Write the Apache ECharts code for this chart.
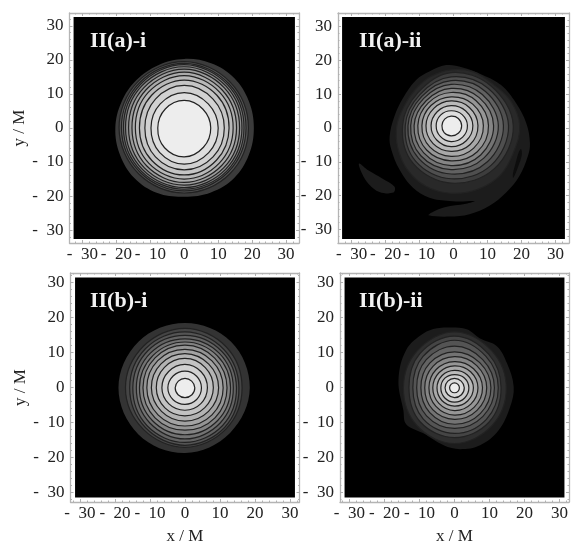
<!DOCTYPE html>
<html>
<head>
<meta charset="utf-8">
<style>
    html, body { margin: 0; padding: 0; background: #fff; }
    #chart { width: 581px; height: 550px; }
</style>
<script src="https://cdn.jsdelivr.net/npm/echarts@6/dist/echarts.min.js"></script>
</head>
<body>
<div id="chart"></div>
<script>
// tick positions, same on every side of every panel
const majorTicks = [-30, -20, -10, 0, 10, 20, 30];
const minorTicks = [-32, -28, -26, -24, -22, -18, -16, -14, -12, -8, -6, -4, -2,
    2, 4, 6, 8, 12, 14, 16, 18, 22, 24, 26, 28, 32];

const panelTitles = ['II(a)-i', 'II(a)-ii', 'II(b)-i', 'II(b)-ii'];
const frameRanges = [33.8, 34, 32.7, 32.7];
const plotRanges = [32.6, 32.8, 31.4, 31.4];

// contour radii, outer to inner.
// each row walks round anticlockwise starting from +x at even angle steps
const a1Centre = [0, 0];
const a1Rings = [
    [20.5, 20.6, 20.8, 20.6, 20.3, 20.0, 19.9, 20.0, 20.3, 20.5, 20.8, 20.7, 20.2, 20.5, 20.8, 20.6],
    [18.9, 19.1, 19.5, 19.3, 19.2, 19.0, 19.1, 19.0],
    [18.2, 18.5, 19.0, 18.7, 18.5, 18.4, 18.5, 18.3],
    [17.6, 18.0, 18.6, 18.2, 17.9, 17.9, 18.0, 17.8],
    [17.0, 17.4, 18.0, 17.6, 17.3, 17.3, 17.5, 17.2],
    [16.3, 16.7, 17.3, 16.8, 16.4, 16.6, 16.8, 16.5],
    [15.4, 15.8, 16.4, 15.9, 15.4, 15.7, 16.0, 15.6],
    [14.4, 14.8, 15.4, 14.9, 14.4, 14.7, 15.0, 14.6],
    [13.2, 13.6, 14.1, 13.6, 13.2, 13.5, 13.8, 13.4],
    [11.8, 12.0, 12.5, 12.0, 11.6, 12.0, 12.3, 12.0],
    [10.0, 10.0, 10.4, 10.0, 9.8, 10.2, 10.6, 10.2],
    [7.8, 7.8, 8.1, 7.9, 7.8, 8.2, 8.5, 8.0]
];
const a1Levels = [0.23, 0.33, 0.41, 0.48, 0.55, 0.61, 0.67, 0.72, 0.77, 0.82, 0.87, 0.93];

const a2Centre = [-0.7, 0.7];
const a2Edge = [[-2.2, 18.6], [2.7, 17.9], [8.6, 15.7], [14, 12.7], [18.4, 7.4], [21.4, 1.5],
    [22.5, -4.4], [21.9, -8.3], [19.4, -14.2], [15.5, -19.1], [10.6, -23], [4.7, -25.5],
    [-1.2, -26.2], [-7.3, -25.8], [-6.1, -24.8], [-2.6, -23.4], [3.7, -22.4], [6.2, -21.6],
    [1.8, -21.7], [-1.2, -21.6], [-7.1, -20.6], [-12, -17.6], [-15.9, -12.3], [-18.3, -6.4],
    [-18.8, -2.5], [-17.4, 3.4], [-14.9, 8.8], [-11, 14.2], [-7.1, 16.7]];
const a2Tail = [[-27.8, -10.5], [-25, -12.6], [-21, -14.9], [-17.4, -17.3],
    [-17.7, -19.1], [-21.8, -18.9], [-24.9, -16.6], [-26.9, -13.5]];
const a2Slit = [[19.9, -6.2], [20.1, -8], [19, -11.5], [17.6, -14.7], [17.5, -13.5], [18.4, -10], [19.2, -7.2]];
const a2Rings = [
    [20.2, 19.0, 17.4, 17.2, 16.5, 15.7, 15.0, 15.0, 16.0, 17.0, 18.3, 19.4, 20.0, 20.4, 20.6, 20.0],
    [18.3, 16.6, 15.7, 13.8, 14.3, 15.8, 17, 18],
    [16.9, 15.5, 14.4, 13, 13.5, 14.8, 15.7, 16.6],
    [15.4, 14.3, 13.3, 12.2, 12.7, 13.6, 14.3, 15.1],
    [13.9, 13, 12.2, 11.4, 11.9, 12.6, 13, 13.6],
    [12.5, 11.7, 11, 10.4, 10.9, 11.4, 11.8, 12.3],
    [11, 10.4, 9.8, 9.5, 9.8, 10.2, 10.4, 10.9],
    [9.5, 9, 8.5, 8.4, 8.6, 8.9, 9.1, 9.4],
    [7.9, 7.6, 7.3, 7.2, 7.4, 7.5, 7.6, 7.9],
    [6.4, 6.1, 5.9, 5.8, 5.9, 6, 6.2, 6.3],
    [4.8, 4.6, 4.4, 4.4, 4.4, 4.5, 4.7, 4.8],
    [3.1, 3, 2.8, 2.7, 2.7, 2.9, 3, 3.1]
];
const a2Levels = [0.16, 0.24, 0.31, 0.38, 0.45, 0.52, 0.59, 0.66, 0.73, 0.8, 0.87, 0.93];
const a2EdgeLevel = 0.11;
const a2SlitLevel = 0.05;

const b1Centre = [0, -0.1];
const b1Rings = [
    [18.5, 18.6, 18.5, 18.7, 19, 18.8, 18.6, 18.2],
    [16.3, 16.6, 17, 16.8, 17, 16.8, 17, 16.6],
    [15.4, 15.6, 16, 15.9, 15.8, 16, 16.4, 16],
    [14.7, 14.8, 15, 15, 14.9, 15.3, 15.6, 15.2],
    [13.8, 13.9, 14, 14, 13.9, 14.2, 14.6, 14.2],
    [13, 13, 13.1, 13, 13, 13.2, 13.4, 13.2],
    [12, 12, 12.2, 12.1, 12, 12.1, 12.1, 12.1],
    [10.9, 10.9, 11, 11, 10.9, 10.9, 10.9, 10.9],
    [9.6, 9.6, 9.8, 9.7, 9.6, 9.5, 9.5, 9.5],
    [8.1, 8.2, 8.4, 8.3, 8.2, 8.1, 8, 8],
    [6.4, 6.5, 6.7, 6.6, 6.6, 6.5, 6.4, 6.4],
    [4.7, 4.7, 4.8, 4.8, 4.9, 4.8, 4.7, 4.7],
    [2.8, 2.7, 2.7, 2.7, 2.8, 2.8, 2.8, 2.8]
];
const b1Levels = [0.2, 0.27, 0.33, 0.39, 0.45, 0.51, 0.58, 0.64, 0.7, 0.76, 0.82, 0.87, 0.93];

const b2Centre = [0, -0.1];
const b2Edge = [[-0.8, 17.1], [3.5, 16.6], [7.3, 14], [12.1, 11.8], [15, 6.9], [16.9, 0.2],
    [15.9, -5.5], [12.6, -12.2], [7.3, -16.5], [1.6, -17.6], [-3.1, -16.5], [-8.9, -13.1],
    [-13.8, -10.5], [-14.6, -6.5], [-16, 2.1], [-13.8, 10.7], [-8.9, 15.4], [-5, 16.9]];
const b2Rings = [
    [14.8, 15.0, 16.0, 15.0, 14.6, 15.2, 15.9, 15.2],
    [13.3, 13.7, 14.8, 13.9, 13, 13.8, 14.2, 13.9],
    [12.5, 12.7, 13.6, 12.7, 11.9, 12.6, 13, 12.8],
    [11.4, 11.4, 11.9, 11.4, 10.8, 11.3, 11.6, 11.5],
    [10.4, 10.2, 10.3, 10, 9.6, 10, 10.4, 10.4],
    [9.2, 9, 8.9, 8.7, 8.5, 8.8, 9, 9.1],
    [8, 7.7, 7.5, 7.4, 7.3, 7.5, 7.8, 7.9],
    [6.7, 6.5, 6.3, 6.2, 6.2, 6.3, 6.5, 6.6],
    [5.4, 5.2, 5, 5, 5, 5.1, 5.2, 5.3],
    [4.1, 4, 3.8, 3.9, 3.9, 4, 4.1, 4.1],
    [2.8, 2.7, 2.7, 2.7, 2.7, 2.7, 2.8, 2.8],
    [1.4, 1.4, 1.4, 1.4, 1.4, 1.4, 1.4, 1.4]
];
const b2Levels = [0.18, 0.27, 0.33, 0.39, 0.45, 0.52, 0.59, 0.66, 0.73, 0.8, 0.86, 0.93];
const b2EdgeLevel = 0.11;

const labelFont = 'Liberation Serif';
const frameColor = '#b4b4b4';
const lineColor = '#222222';

// frame boxes in pixels
const frames = [
    { left: 69.5, top: 13, width: 229.5, height: 230 },
    { left: 338, top: 13, width: 231, height: 230 },
    { left: 70.5, top: 273, width: 229, height: 229 },
    { left: 340, top: 273, width: 229, height: 229 }
];
const titlePos = [
    { left: 90, top: 30 }, { left: 359, top: 30 },
    { left: 90, top: 290 }, { left: 359, top: 290 }
];

// turn a radius row into closed outline points in data units
function ringToPoints(centre, radii) {
    const step = 2 * Math.PI / radii.length;
    return radii.map(function (r, i) {
        return [centre[0] + r * Math.cos(i * step), centre[1] + r * Math.sin(i * step)];
    });
}

function grey(level) {
    const v = Math.round(level * 255);
    return 'rgb(' + v + ',' + v + ',' + v + ')';
}

function ringShapes(centre, rings, levels) {
    return rings.map(function (radii, i) {
        return { points: ringToPoints(centre, radii), level: levels[i], line: true };
    });
}

const a1Shapes = ringShapes(a1Centre, a1Rings, a1Levels);
a1Shapes[0].line = false;
const a2Shapes = [
    { points: a2Edge, level: a2EdgeLevel, line: false },
    { points: a2Tail, level: a2EdgeLevel, line: false }
].concat(ringShapes(a2Centre, a2Rings, a2Levels));
a2Shapes.splice(2, 0, { points: a2Slit, level: a2SlitLevel, line: false });
const b1Shapes = ringShapes(b1Centre, b1Rings, b1Levels);
b1Shapes[0].line = false;
const b2Shapes = [{ points: b2Edge, level: b2EdgeLevel, line: false }]
    .concat(ringShapes(b2Centre, b2Rings, b2Levels));
const panelShapes = [a1Shapes, a2Shapes, b1Shapes, b2Shapes];

function tickLabel(value) {
    return value < 0 ? '-  ' + Math.abs(value) : String(value);
}

function makeAxis(dim, panel, position, values, tickLength, main) {
    const range = frameRanges[panel];
    const axis = {
        type: 'value',
        gridIndex: panel,
        position: position,
        min: -range,
        max: range,
        splitLine: { show: false },
        axisLine: { show: main, onZero: false, lineStyle: { color: frameColor, width: 1.3 } },
        axisTick: {
            show: true,
            inside: true,
            length: tickLength,
            customValues: values,
            lineStyle: { color: '#b0b0b0', width: 1 }
        },
        axisLabel: { show: false }
    };
    if (main && (position === 'bottom' || position === 'left')) {
        axis.axisLabel = {
            show: true,
            customValues: majorTicks,
            formatter: tickLabel,
            margin: dim === 'x' ? 3 : 6,
            color: '#222',
            fontFamily: labelFont,
            fontSize: 17
        };
        const named = dim === 'x' ? panel >= 2 : panel % 2 === 0;
        if (named) {
            axis.name = dim === 'x' ? 'x / M' : 'y / M';
            axis.nameLocation = 'middle';
            axis.nameGap = dim === 'x' ? 26 : 39;
            axis.nameTextStyle = { color: '#222', fontFamily: labelFont, fontSize: 17 };
        }
    }
    return axis;
}

const xAxes = [], yAxes = [], series = [], titles = [], grids = [];
panelTitles.forEach(function (text, p) {
    grids.push(Object.assign({ containLabel: false }, frames[p]));
    titles.push(Object.assign({
        text: text,
        textStyle: { color: '#f2f2f2', fontFamily: labelFont, fontWeight: 'bold', fontSize: 22 },
        padding: 0
    }, titlePos[p]));
    // axes 0,1 carry frame and major ticks, 2,3 only the small ticks
    xAxes.push(makeAxis('x', p, 'bottom', majorTicks, 3, true), makeAxis('x', p, 'top', majorTicks, 3, true),
        makeAxis('x', p, 'bottom', minorTicks, 1.5, false), makeAxis('x', p, 'top', minorTicks, 1.5, false));
    yAxes.push(makeAxis('y', p, 'left', majorTicks, 3, true), makeAxis('y', p, 'right', majorTicks, 3, true),
        makeAxis('y', p, 'left', minorTicks, 1.5, false), makeAxis('y', p, 'right', minorTicks, 1.5, false));

    const r = plotRanges[p];
    const shapes = [{ points: [[-r, -r], [r, -r], [r, r], [-r, r]], level: 0, line: false, sharp: true }]
        .concat(panelShapes[p]);
    series.push({
        type: 'custom',
        coordinateSystem: 'cartesian2d',
        xAxisIndex: p * 4,
        yAxisIndex: p * 4,
        silent: true,
        clip: true,
        data: shapes.map(function (s, i) { return [s.points[0][0], s.points[0][1], i]; }),
        renderItem: function (params, api) {
            const s = shapes[params.dataIndex];
            return {
                type: 'polygon',
                shape: {
                    points: s.points.map(function (pt) { return api.coord(pt); }),
                    smooth: s.sharp ? 0 : 0.37,
                    smoothConstraint: false
                },
                style: {
                    fill: grey(s.level),
                    stroke: s.line ? lineColor : null,
                    lineWidth: s.line ? 1.2 : 0
                }
            };
        }
    });
});

const chart = echarts.init(document.getElementById('chart'));
chart.setOption({
    animation: false,
    backgroundColor: '#fff',
    title: titles,
    grid: grids,
    xAxis: xAxes,
    yAxis: yAxes,
    series: series
});

window.onresize = function () {
    chart.resize();
};
</script>
</body>
</html>
